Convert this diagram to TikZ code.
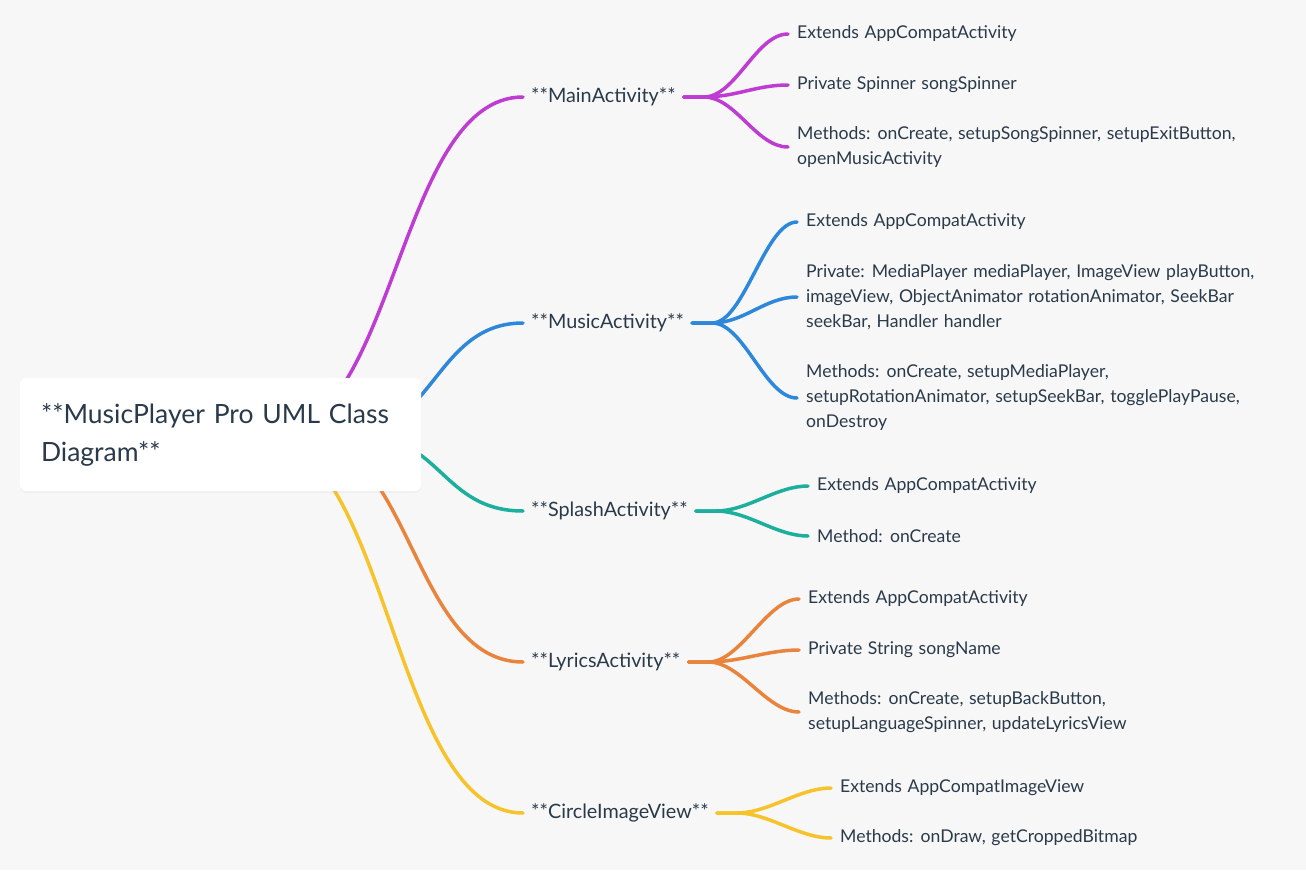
\documentclass[tikz,border=0pt]{standalone}
\usepackage{fontspec}
\setmainfont{Lato}[WordSpace=1.25]
\usetikzlibrary{shadows}
\definecolor{bgcol}{HTML}{F7F7F7}
\definecolor{ink}{HTML}{2A3A4A}
\definecolor{cmain}{HTML}{BE3CD2}
\definecolor{cmusic}{HTML}{2D88DC}
\definecolor{csplash}{HTML}{1BAF9C}
\definecolor{clyrics}{HTML}{E8843C}
\definecolor{ccircle}{HTML}{F6C32A}

\begin{document}
\begin{tikzpicture}[x=1pt,y=-1pt,line cap=round,
    link/.style={line width=3.5pt},
    rootbox/.style={fill=white,rounded corners=6pt,minimum width=401pt,minimum height=113pt,
        inner xsep=21pt,text width=359pt,align=left,text=ink,font=\fontsize{26.5}{38}\selectfont,
        drop shadow={opacity=0.06,shadow xshift=0pt,shadow yshift=-2pt}},
    cls/.style={anchor=west,inner xsep=8pt,inner ysep=2pt,text=ink,font=\fontsize{19.8}{22}\selectfont},
    item/.style={anchor=west,inner xsep=9pt,inner ysep=2pt,align=left,text=ink,font=\fontsize{17.6}{25}\selectfont}]
    \fill[bgcol] (0,0) rectangle (1306,870);
    \useasboundingbox (0,0) rectangle (1306,870);

    \node (main) [cls] at (523,97) {**MainActivity**};
    \node (music) [cls] at (523,323) {**MusicActivity**};
    \node (splash) [cls] at (523,511) {**SplashActivity**};
    \node (lyrics) [cls] at (523,662) {**LyricsActivity**};
    \node (circle) [cls] at (523,813) {**CircleImageView**};

    \coordinate (r1) at (270,435);
    \coordinate (r2) at (346,435);
    \coordinate (r3) at (360,435);
    \coordinate (r4) at (301,435);
    \coordinate (r5) at (258,435);
    \draw[link,cmain] (r1) .. controls +(126,0) and +(-126,0) .. (main.west);
    \draw[link,cmusic] (r2) .. controls +(88,0) and +(-88,0) .. (music.west);
    \draw[link,csplash] (r3) .. controls +(81,0) and +(-81,0) .. (splash.west);
    \draw[link,clyrics] (r4) .. controls +(111,0) and +(-111,0) .. (lyrics.west);
    \draw[link,ccircle] (r5) .. controls +(132,0) and +(-132,0) .. (circle.west);

    \node (root) [rootbox] at (220.5,434.5) {**MusicPlayer Pro UML Class\\Diagram**};

    \node (main1) [item] at (788,34) {Extends AppCompatActivity};
    \node (main2) [item] at (788,85) {Private Spinner songSpinner};
    \node (main3) [item] at (788,147) {Methods: onCreate, setupSongSpinner, setupExitButton,\\openMusicActivity};
    \foreach \c in {main1,main2,main3}
        \draw[link,cmain] (main.east) -- ++(20,0) .. controls +(32,0) and +(-32,0) .. (\c.west);

    \node (music1) [item] at (797,222) {Extends AppCompatActivity};
    \node (music2) [item] at (797,297) {Private: MediaPlayer mediaPlayer, ImageView playButton,\\imageView, ObjectAnimator rotationAnimator, SeekBar\\seekBar, Handler handler};
    \node (music3) [item] at (797,398) {Methods: onCreate, setupMediaPlayer,\\setupRotationAnimator, setupSeekBar, togglePlayPause,\\onDestroy};
    \foreach \c in {music1,music2,music3}
        \draw[link,cmusic] (music.east) -- ++(20,0) .. controls +(32,0) and +(-32,0) .. (\c.west);

    \node (splash1) [item] at (808,486) {Extends AppCompatActivity};
    \node (splash2) [item] at (808,536) {Method: onCreate};
    \foreach \c in {splash1,splash2}
        \draw[link,csplash] (splash.east) -- ++(20,0) .. controls +(32,0) and +(-32,0) .. (\c.west);

    \node (lyrics1) [item] at (799,599) {Extends AppCompatActivity};
    \node (lyrics2) [item] at (799,650) {Private String songName};
    \node (lyrics3) [item] at (799,712) {Methods: onCreate, setupBackButton,\\setupLanguageSpinner, updateLyricsView};
    \foreach \c in {lyrics1,lyrics2,lyrics3}
        \draw[link,clyrics] (lyrics.east) -- ++(20,0) .. controls +(32,0) and +(-32,0) .. (\c.west);

    \node (circle1) [item] at (831,788) {Extends AppCompatImageView};
    \node (circle2) [item] at (831,838) {Methods: onDraw, getCroppedBitmap};
    \foreach \c in {circle1,circle2}
        \draw[link,ccircle] (circle.east) -- ++(20,0) .. controls +(32,0) and +(-32,0) .. (\c.west);
\end{tikzpicture}
\end{document}
